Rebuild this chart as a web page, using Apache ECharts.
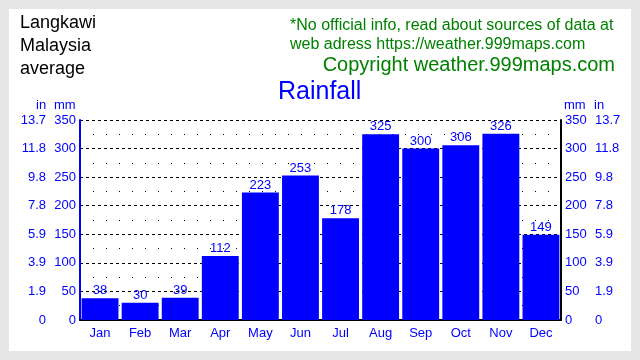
<!DOCTYPE html>
<html><head><meta charset="utf-8">
<script src="https://cdn.jsdelivr.net/npm/echarts@6/dist/echarts.min.js"></script>
<style>html,body{margin:0;padding:0;background:#e6e6e6;}#c{width:640px;height:360px;}</style>
</head><body><div id="c"></div>
<script>
const months = ['Jan','Feb','Mar','Apr','May','Jun','Jul','Aug','Sep','Oct','Nov','Dec'];
const rainfallMm = [38,30,39,112,223,253,178,325,300,306,326,149];
const mmTicks = ['0','50','100','150','200','250','300','350'];
const inTicks = ['0','1.9','3.9','5.9','7.8','9.8','11.8','13.7'];

const FONT = '"Liberation Sans", Arial, sans-serif';
const BLUE = '#0000ff';
const GREEN = '#008000';

function tickFmt(arr){ return v => { const i = Math.round(v/50); return arr[i] !== undefined ? arr[i] : ''; }; }

function yAx(pos, offset, labels, opts){
  return Object.assign({
    type:'value', position:pos, offset:offset, min:0, max:350, interval:50,
    axisLine:{show:false}, axisTick:{show:false}, splitLine:{show:false},
    axisLabel:{color:BLUE, fontSize:13, fontFamily:FONT, margin:4, formatter:tickFmt(labels),
      align: pos==='left' ? 'right' : 'left'}
  }, opts||{});
}

const chart = echarts.init(document.getElementById('c'), null, {renderer:'canvas'});
chart.setOption({
  backgroundColor:'#e6e6e6',
  animation:false,
  graphic:[
    {type:'rect', shape:{x:9,y:9,width:622,height:342}, style:{fill:'#ffffff'}, z:-10},
    {type:'text', left:20, top:12, style:{text:'Langkawi\nMalaysia\naverage', fill:'#000', font:'18px '+FONT, lineHeight:23}},
    {type:'text', left:290, top:18, style:{text:'*No official info, read about sources of data at', fill:GREEN, font:'16px '+FONT}},
    {type:'text', left:290, top:37, style:{text:'web adress https://weather.999maps.com', fill:GREEN, font:'16px '+FONT}},
    {type:'text', right:25, top:55, style:{text:'Copyright weather.999maps.com', fill:GREEN, font:'20px '+FONT}},
    {type:'text', left:278, top:80, style:{text:'Rainfall', fill:BLUE, font:'25px '+FONT}},
    {type:'text', left:36, top:99, style:{text:'in', fill:BLUE, font:'13px '+FONT}},
    {type:'text', left:54, top:99, style:{text:'mm', fill:BLUE, font:'13px '+FONT}},
    {type:'text', left:564, top:99, style:{text:'mm', fill:BLUE, font:'13px '+FONT}},
    {type:'text', left:594, top:99, style:{text:'in', fill:BLUE, font:'13px '+FONT}}
  ],
  grid:{left:80, right:79, top:120, bottom:40, containLabel:false},
  xAxis:{
    type:'category', data:months,
    axisLine:{lineStyle:{color:'#000', width:2}}, axisTick:{show:false},
    axisLabel:{color:BLUE, fontSize:13, fontFamily:FONT, margin:7}
  },
  yAxis:[
    yAx('left', 0, mmTicks, {
      axisLine:{show:true, lineStyle:{color:BLUE, width:2}},
      splitLine:{show:true, lineStyle:{color:'#000', type:[3,3], width:1}},
      minorTick:{show:false, splitNumber:2},
      minorSplitLine:{show:true, lineStyle:{color:'#000', type:[1,12], width:1}}
    }),
    yAx('left', 30, inTicks),
    yAx('right', 0, mmTicks, {axisLine:{show:true, lineStyle:{color:'#000', width:2}}}),
    yAx('right', 30, inTicks)
  ],
  series:[{
    type:'bar', data:rainfallMm, yAxisIndex:0,
    barCategoryGap:'8%',
    itemStyle:{color:BLUE},
    label:{show:true, position:'top', distance:1, color:BLUE, fontSize:13, fontFamily:FONT}
  }]
});
</script></body></html>
